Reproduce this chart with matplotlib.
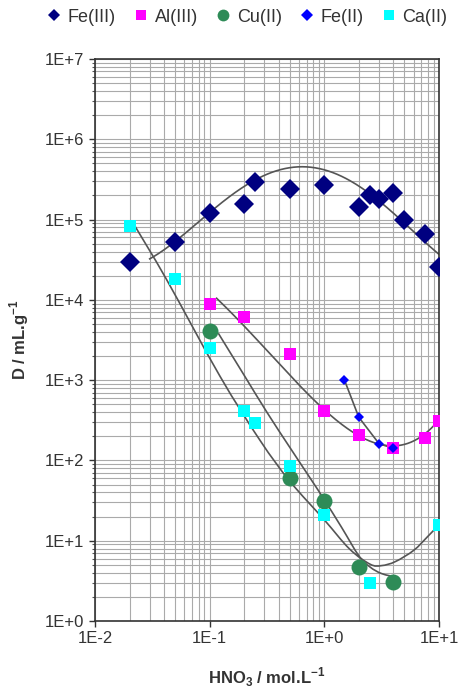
import numpy as np
import matplotlib
matplotlib.use('Agg')
import matplotlib.pyplot as plt
from matplotlib.lines import Line2D
from matplotlib.path import Path
from matplotlib.patches import PathPatch
from matplotlib.ticker import LogLocator, NullFormatter

plt.rcParams['font.family'] = ['Liberation Sans', 'DejaVu Sans']
plt.rcParams['mathtext.fontset'] = 'custom'
plt.rcParams['mathtext.rm'] = 'Liberation Sans'
plt.rcParams['mathtext.bf'] = 'Liberation Sans:bold'

# Measured points
fe3_x = [0.02, 0.05, 0.1, 0.2, 0.25, 0.5, 1, 2, 2.5, 3, 4, 5, 7.5, 10]
fe3_y = [3.0e4, 5.2e4, 1.22e5, 1.55e5, 2.9e5, 2.4e5, 2.7e5, 1.42e5, 2.0e5, 1.8e5, 2.15e5, 1.0e5, 6.7e4, 2.6e4]

al_x = [0.1, 0.2, 0.5, 1, 2, 4, 7.5, 10]
al_y = [8.8e3, 6.1e3, 2.1e3, 415, 206, 142, 188, 310]

cu_x = [0.1, 0.5, 1, 2, 4]
cu_y = [4.1e3, 60, 31, 4.7, 3.1]

fe2_x = [1.5, 2, 3, 4]
fe2_y = [1.0e3, 345, 162, 142]

ca_x = [0.02, 0.05, 0.1, 0.2, 0.25, 0.5, 1, 2.5, 10]
ca_y = [8.2e4, 1.8e4, 2.5e3, 415, 290, 85, 21, 3.0, 15.5]

# Trend curves
fe3_fit_x = [0.030, 0.051, 0.107, 0.24, 0.38, 0.65, 0.86, 1.2, 2.1, 3.3, 5.2, 10]
fe3_fit_y = [3.2e4, 5.6e4, 1.32e5, 2.96e5, 3.95e5, 4.65e5, 4.55e5, 3.78e5, 2.45e5, 1.52e5, 8.6e4, 3.7e4]

al_fit_x = [0.115, 0.24, 0.41, 0.61, 1.01, 2.04, 3.05, 3.99, 6.8, 10]
al_fit_y = [1.05e4, 3.6e3, 1.47e3, 914, 426, 198, 156, 146, 208, 310]

ca_fit_x = [0.0223, 0.0422, 0.123, 0.275, 0.501, 1.0, 1.66, 2.51, 3.16, 4.17, 6.03, 7.94, 10]
ca_fit_y = [8.3e4, 1.78e4, 1.12e3, 178, 55, 18.2, 7.9, 5.1, 4.9, 5.5, 7.6, 11.2, 15.8]

cu_fit_x = [0.119, 0.2, 0.316, 0.501, 0.794, 1.0, 1.41, 2.0, 2.51, 3.16, 4.27]
cu_fit_y = [3.84e3, 1.15e3, 398, 145, 53.7, 32.4, 14.8, 6.5, 4.7, 3.9, 3.5]


def trend(xs, ys, deg):
    # polynomial trendline in log-log space
    lx = np.log10(xs)
    coef = np.polyfit(lx, np.log10(ys), deg)
    gx = np.linspace(lx[0], lx[-1], 200)
    return 10 ** gx, 10 ** np.polyval(coef, gx)


def smooth_path(xs, ys):
    # Catmull-Rom through the read points, drawn as bezier segments
    P = np.column_stack([np.log10(xs), np.log10(ys)])
    n = len(P)
    verts = [P[0]]
    codes = [Path.MOVETO]
    for i in range(n - 1):
        p0 = P[max(i - 1, 0)]
        p1 = P[i]
        p2 = P[i + 1]
        p3 = P[min(i + 2, n - 1)]
        verts += [p1 + (p2 - p0) / 6, p2 - (p3 - p1) / 6, p2]
        codes += [Path.CURVE4] * 3
    return Path(10 ** np.array(verts), codes)


fig = plt.figure(figsize=(4.58, 6.97), dpi=100)
ax = fig.add_axes([0.2074, 0.109, 0.751, 0.8064])
ax.set_xscale('log')
ax.set_yscale('log')

curve_kw = dict(color='#555555', linewidth=1.2, zorder=2)
ax.plot(*trend(fe3_fit_x, fe3_fit_y, 4), **curve_kw)
ax.plot(*trend(al_fit_x, al_fit_y, 4), **curve_kw)
ax.add_patch(PathPatch(smooth_path(ca_fit_x, ca_fit_y), fill=False, edgecolor='#555555', linewidth=1.2, zorder=2))
ax.add_patch(PathPatch(smooth_path(cu_fit_x, cu_fit_y), fill=False, edgecolor='#555555', linewidth=1.2, zorder=2))
ax.plot(fe2_x, fe2_y, **curve_kw)

ax.plot(fe3_x, fe3_y, 'D', color='#000080', markersize=10, markeredgewidth=0, zorder=3)
ax.plot(al_x, al_y, 's', color='#FF00FF', markersize=8.5, markeredgewidth=0, zorder=3)
ax.plot(cu_x, cu_y, 'o', color='#2E8B57', markersize=11.5, markeredgewidth=0, zorder=3)
ax.plot(fe2_x, fe2_y, 'D', color='#0000FF', markersize=5, markeredgewidth=0, zorder=4)
ax.plot(ca_x, ca_y, 's', color='#00FFFF', markersize=8, markeredgewidth=0, zorder=3)

ax.set_xlim(1e-2, 10)
ax.set_ylim(1, 1e7)

ax.set_xticks([1e-2, 1e-1, 1, 10])
ax.set_xticklabels(['1E-2', '1E-1', '1E+0', '1E+1'])
ax.set_yticks([10.0**k for k in range(8)])
ax.set_yticklabels(['1E+%d' % k for k in range(8)])
ax.xaxis.set_minor_locator(LogLocator(base=10, subs=np.arange(2, 10), numticks=20))
ax.yaxis.set_minor_locator(LogLocator(base=10, subs=np.arange(2, 10), numticks=20))
ax.xaxis.set_minor_formatter(NullFormatter())
ax.yaxis.set_minor_formatter(NullFormatter())

ax.grid(True, which='both', color='#aaaaaa', linewidth=0.8)
ax.set_axisbelow(True)
ax.tick_params(axis='both', which='major', labelsize=12, length=4, width=1, direction='out', colors='#333333')
ax.tick_params(axis='x', which='minor', length=0)
ax.tick_params(axis='y', which='minor', length=2, width=0.8, direction='out', colors='#555555')
for lbl in ax.get_xticklabels() + ax.get_yticklabels():
    lbl.set_color('#333333')
for sp in ax.spines.values():
    sp.set_color('#333333')
    sp.set_linewidth(1.2)

ax.set_xlabel(r'HNO$_\mathbf{3}$ / mol.L$^{\mathbf{-1}}$', fontsize=12, fontweight='bold', color='#333333', labelpad=14)
ax.set_ylabel(r'D / mL.g$^{\mathbf{-1}}$', fontsize=12, fontweight='bold', color='#333333', labelpad=10)

handles = [
    Line2D([], [], linestyle='none', marker='D', color='#000080', markersize=6.5, markeredgewidth=0, label='Fe(III)'),
    Line2D([], [], linestyle='none', marker='s', color='#FF00FF', markersize=7.5, markeredgewidth=0, label='Al(III)'),
    Line2D([], [], linestyle='none', marker='o', color='#2E8B57', markersize=8.5, markeredgewidth=0, label='Cu(II)'),
    Line2D([], [], linestyle='none', marker='D', color='#0000FF', markersize=6.5, markeredgewidth=0, label='Fe(II)'),
    Line2D([], [], linestyle='none', marker='s', color='#00FFFF', markersize=7.5, markeredgewidth=0, label='Ca(II)'),
]
leg = fig.legend(handles=handles, loc='upper center', bbox_to_anchor=(0.54, 0.998), ncol=5,
                 frameon=False, fontsize=13, handlelength=0.8, handletextpad=0.35,
                 columnspacing=1.0, borderaxespad=0)
for t in leg.get_texts():
    t.set_color('#333333')

fig.savefig('out.png', dpi=100)
